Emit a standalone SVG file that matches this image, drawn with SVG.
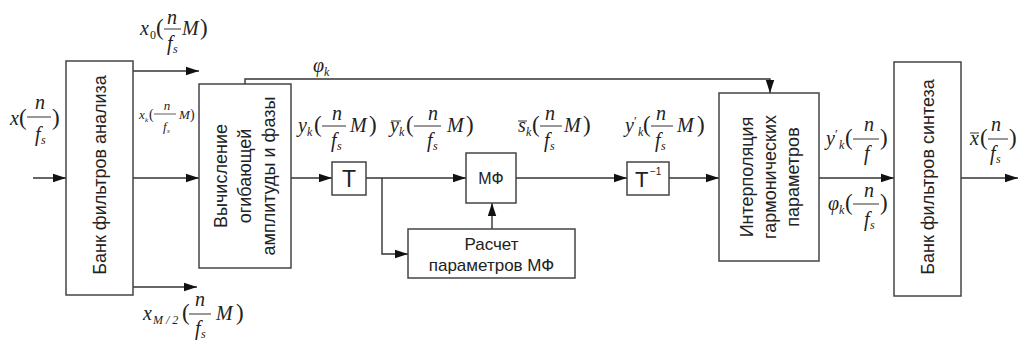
<svg xmlns="http://www.w3.org/2000/svg" width="1019" height="345" viewBox="0 0 1019 345">
<style>
.box{fill:#fff;stroke:#444;stroke-width:1.5}
.cn{fill:none;stroke:#333;stroke-width:1.4}
.lbl{font-family:"Liberation Sans",Arial,sans-serif;font-size:18px;fill:#222}
.mi{font-family:"Liberation Serif","Times New Roman",serif;font-style:italic;font-size:20px;fill:#222}
.mr{font-family:"Liberation Serif","Times New Roman",serif;font-size:23px;fill:#222}
.si{font-family:"Liberation Serif","Times New Roman",serif;font-style:italic;font-size:12px;fill:#222}
.sr{font-family:"Liberation Serif","Times New Roman",serif;font-size:12px;fill:#222}
.pr{font-family:"Liberation Serif","Times New Roman",serif;font-size:13px;fill:#222}
.fb{stroke:#333;stroke-width:1}
.c{text-anchor:middle}
</style>
<defs>
<marker id="ah" markerWidth="14" markerHeight="10" refX="13" refY="5" orient="auto" markerUnits="userSpaceOnUse">
<path d="M0,0.8 L13,5 L0,9.2 z" fill="#111"/>
</marker>
</defs>
<rect width="1019" height="345" fill="#fff"/>

<g id="connectors">
<path class="cn" d="M33,178 H66" marker-end="url(#ah)"/>
<path class="cn" d="M133,71 H199" marker-end="url(#ah)"/>
<path class="cn" d="M133,178 H199" marker-end="url(#ah)"/>
<path class="cn" d="M133,287 H197" marker-end="url(#ah)"/>
<path class="cn" d="M245,84 V79 H770 V93" marker-end="url(#ah)"/>
<path class="cn" d="M291,178 H332" marker-end="url(#ah)"/>
<path class="cn" d="M366,178 H466" marker-end="url(#ah)"/>
<path class="cn" d="M382,178 V254 H408" marker-end="url(#ah)"/>
<path class="cn" d="M492,229 V203" marker-end="url(#ah)"/>
<path class="cn" d="M516,178 H627" marker-end="url(#ah)"/>
<path class="cn" d="M669,178 H719" marker-end="url(#ah)"/>
<path class="cn" d="M819,178 H894" marker-end="url(#ah)"/>
<path class="cn" d="M961,178 H1018" marker-end="url(#ah)"/>
</g>

<g id="analysis-bank">
<rect class="box" x="66" y="61" width="67" height="234"/>
<text class="lbl c" transform="translate(100,175) rotate(-90)" dominant-baseline="central">Банк фильтров анализа</text>
</g>

<g id="envelope">
<rect class="box" x="199" y="84" width="92" height="184"/>
<text class="lbl c" transform="translate(245,176) rotate(-90)" dominant-baseline="central"><tspan x="0" y="-24">Вычисление</tspan><tspan x="0" y="0">огибающей</tspan><tspan x="0" y="24">амплитуды и фазы</tspan></text>
</g>

<g id="T">
<rect class="box" x="332" y="162" width="34" height="33"/>
<text class="lbl c" x="349" y="187" style="font-size:23px">T</text>
</g>

<g id="MF">
<rect class="box" x="466" y="153" width="50" height="50"/>
<text class="lbl c" x="491" y="184" style="font-size:16px">МФ</text>
</g>

<g id="calc">
<rect class="box" x="408" y="229" width="167" height="49"/>
<text class="lbl c" x="491.5" y="250" style="font-size:17px">Расчет</text>
<text class="lbl c" x="491.5" y="271" style="font-size:17px">параметров МФ</text>
</g>

<g id="Tinv">
<rect class="box" x="627" y="162" width="42" height="33"/>
<text class="lbl" x="635" y="187" style="font-size:22px">T</text>
<text class="lbl" x="650" y="175" style="font-size:10px">−1</text>
</g>

<g id="interp">
<rect class="box" x="719" y="93" width="100" height="168"/>
<text class="lbl c" transform="translate(770,177) rotate(-90)" dominant-baseline="central"><tspan x="0" y="-23">Интерполяция</tspan><tspan x="0" y="0">гармонических</tspan><tspan x="0" y="23">параметров</tspan></text>
</g>

<g id="synth-bank">
<rect class="box" x="894" y="62" width="67" height="234"/>
<text class="lbl c" transform="translate(928,177) rotate(-90)" dominant-baseline="central">Банк фильтров синтеза</text>
</g>

<g id="labels">
<!-- x(n/fs) input -->
<text class="mi" x="10" y="125">x</text>
<text class="mr" x="19" y="125">(</text>
<line class="fb" x1="27" y1="117" x2="51" y2="117"/>
<text class="mi c" x="40" y="109">n</text>
<text class="mi" x="35" y="141">f</text><text class="si" x="41" y="144">s</text>
<text class="mr" x="52" y="125">)</text>

<!-- x0 -->
<text class="mi" x="140" y="35">x</text>
<text class="sr" x="150" y="39">0</text>
<text class="mr" x="156" y="35">(</text>
<line class="fb" x1="164" y1="29" x2="181" y2="29"/>
<text class="mi c" x="172" y="24">n</text>
<text class="mi" x="167" y="50">f</text><text class="si" x="173" y="53">s</text>
<text class="mi" x="182" y="35">M</text>
<text class="mr" x="200" y="35">)</text>

<!-- xk small -->
<text class="mi" x="139" y="119" style="font-size:13px">x</text>
<text class="si" x="145" y="122" style="font-size:7px">k</text>
<text class="mr" x="149" y="119" style="font-size:14px">(</text>
<line class="fb" x1="154" y1="114" x2="176" y2="114" style="stroke-width:0.8"/>
<text class="mi c" x="167" y="110" style="font-size:13px">n</text>
<text class="mi" x="163" y="131" style="font-size:13px">f</text><text class="si" x="167" y="133" style="font-size:7px">s</text>
<text class="mi" x="179" y="119" style="font-size:13px">M</text>
<text class="mr" x="190" y="119" style="font-size:14px">)</text>

<!-- xM/2 -->
<text class="mi" x="143" y="320">x</text>
<text class="si" x="153" y="324">M / 2</text>
<text class="mr" x="182" y="320">(</text>
<line class="fb" x1="189" y1="314" x2="211" y2="314"/>
<text class="mi c" x="200" y="306">n</text>
<text class="mi" x="195" y="335">f</text><text class="si" x="201" y="338">s</text>
<text class="mi" x="216" y="320">M</text>
<text class="mr" x="236" y="320">)</text>

<!-- phi_k on feedforward -->
<text class="mi" x="313" y="72">φ</text>
<text class="si" x="324" y="76">k</text>

<!-- y_k -->
<text class="mi" x="298" y="132">y</text>
<text class="si" x="307" y="136">k</text>
<text class="mr" x="314" y="132">(</text>
<line class="fb" x1="322" y1="126" x2="346" y2="126"/>
<text class="mi c" x="337" y="120">n</text>
<text class="mi" x="331" y="147">f</text><text class="si" x="337" y="150">s</text>
<text class="mi" x="350" y="132">M</text>
<text class="mr" x="369" y="132">)</text>

<!-- ybar_k -->
<text class="mi" x="390" y="132">y</text>
<line class="fb" x1="391" y1="121" x2="401" y2="121"/>
<text class="si" x="399" y="136">k</text>
<text class="mr" x="406" y="132">(</text>
<line class="fb" x1="414" y1="126" x2="441" y2="126"/>
<text class="mi c" x="433" y="120">n</text>
<text class="mi" x="427" y="147">f</text><text class="si" x="433" y="150">s</text>
<text class="mi" x="447" y="132">M</text>
<text class="mr" x="466" y="132">)</text>

<!-- sbar_k -->
<text class="mi" x="518" y="132">s</text>
<line class="fb" x1="518" y1="121" x2="527" y2="121"/>
<text class="si" x="526" y="136">k</text>
<text class="mr" x="532" y="132">(</text>
<line class="fb" x1="540" y1="126" x2="562" y2="126"/>
<text class="mi c" x="550" y="120">n</text>
<text class="mi" x="544" y="147">f</text><text class="si" x="550" y="150">s</text>
<text class="mi" x="564" y="132">M</text>
<text class="mr" x="583" y="132">)</text>

<!-- y'_k -->
<text class="mi" x="625" y="132">y</text>
<text class="pr" x="634" y="125">′</text>
<text class="si" x="638" y="136">k</text>
<text class="mr" x="643" y="132">(</text>
<line class="fb" x1="651" y1="126" x2="673" y2="126"/>
<text class="mi c" x="661" y="120">n</text>
<text class="mi" x="655" y="147">f</text><text class="si" x="661" y="150">s</text>
<text class="mi" x="677" y="132">M</text>
<text class="mr" x="697" y="132">)</text>

<!-- y'_k(n/f) output -->
<text class="mi" x="826" y="145">y</text>
<text class="pr" x="835" y="138">′</text>
<text class="si" x="839" y="149">k</text>
<text class="mr" x="845" y="145">(</text>
<line class="fb" x1="853" y1="139" x2="879" y2="139"/>
<text class="mi c" x="869" y="131">n</text>
<text class="mi" x="864" y="160">f</text>
<text class="mr" x="880" y="145">)</text>

<!-- phi_k(n/fs) output -->
<text class="mi" x="828" y="210">φ</text>
<text class="si" x="839" y="214">k</text>
<text class="mr" x="845" y="210">(</text>
<line class="fb" x1="853" y1="204" x2="879" y2="204"/>
<text class="mi c" x="869" y="197">n</text>
<text class="mi" x="864" y="226">f</text><text class="si" x="870" y="229">s</text>
<text class="mr" x="880" y="210">)</text>

<!-- xbar output -->
<text class="mi" x="970" y="145">x</text>
<line class="fb" x1="970" y1="133" x2="979" y2="133"/>
<text class="mr" x="980" y="145">(</text>
<line class="fb" x1="988" y1="139" x2="1008" y2="139"/>
<text class="mi c" x="996" y="131">n</text>
<text class="mi" x="990" y="160">f</text><text class="si" x="996" y="163">s</text>
<text class="mr" x="1009" y="145">)</text>
</g>
</svg>
